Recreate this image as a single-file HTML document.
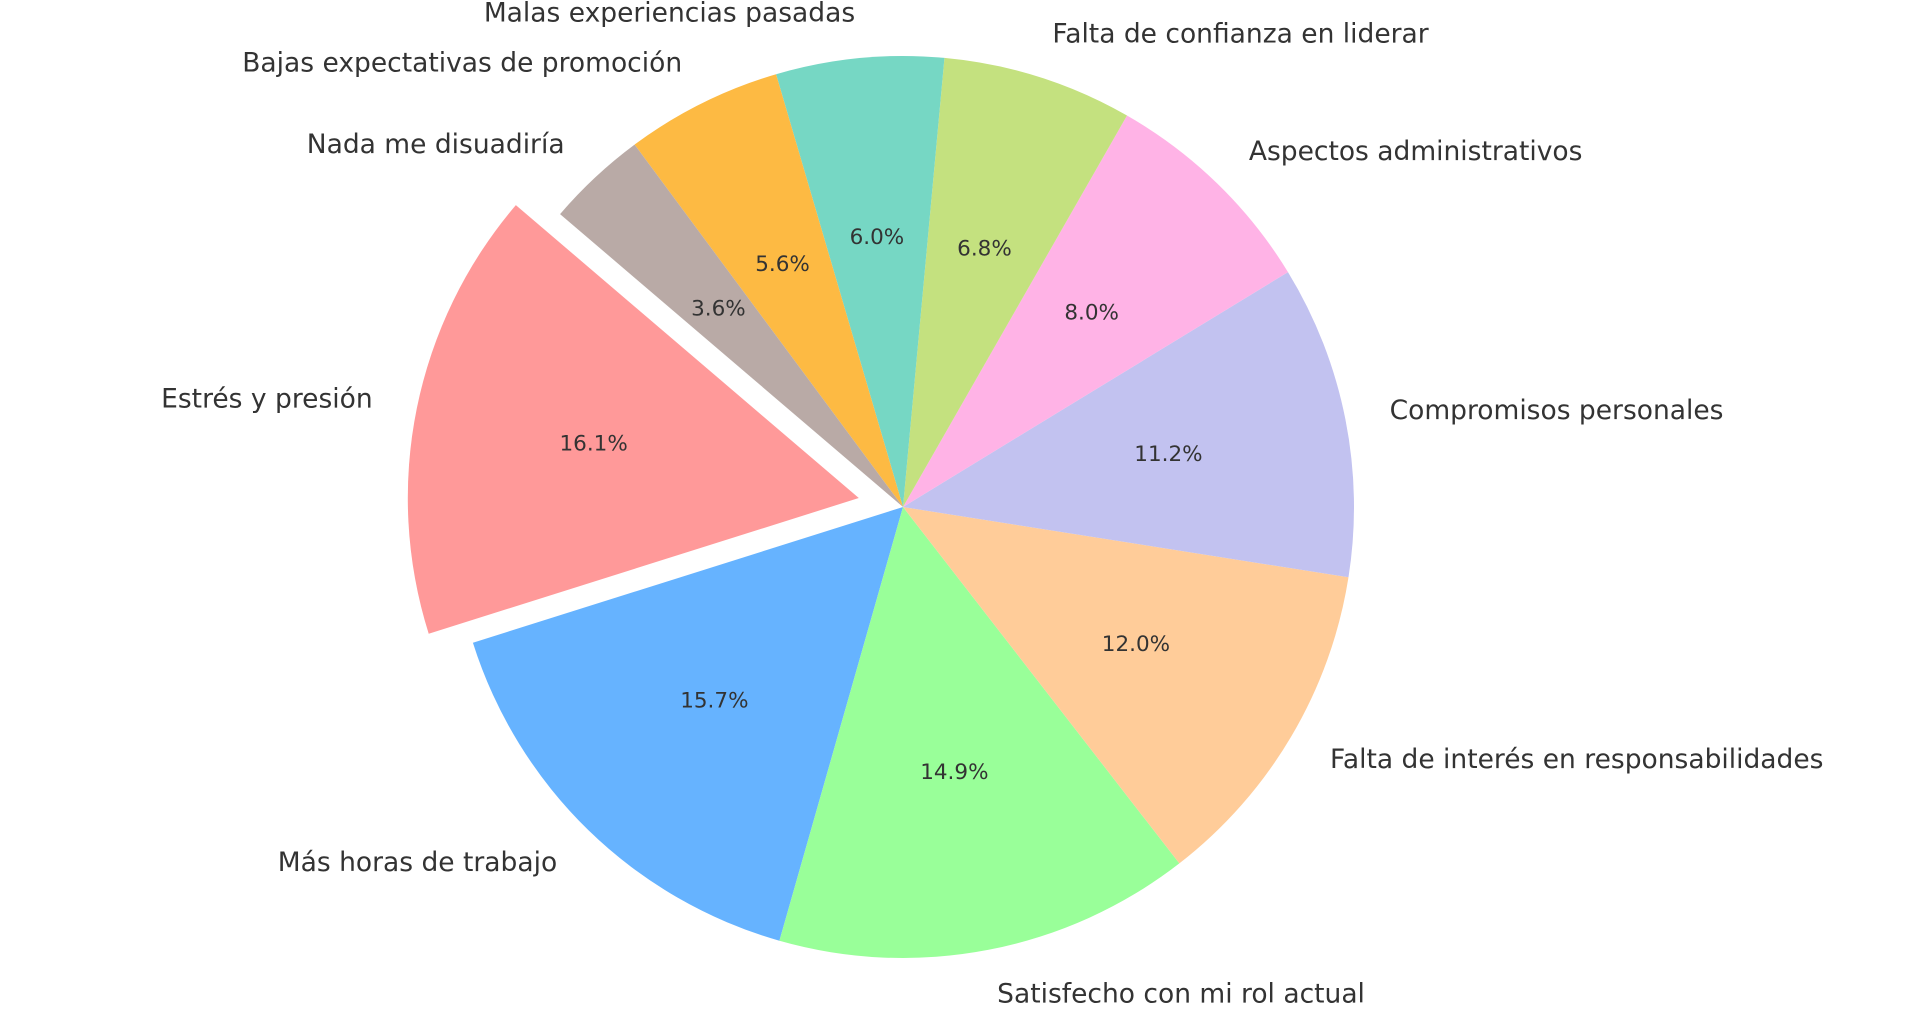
<!DOCTYPE html>
<html><head><meta charset="utf-8"><style>
html,body{margin:0;padding:0;background:#fff;}
svg{display:block;font-family:"DejaVu Sans","Liberation Sans",sans-serif;}
</style></head><body>
<svg id="chart" width="1920" height="1029" viewBox="0 0 1920 1029" xmlns="http://www.w3.org/2000/svg">
<rect width="1920" height="1029" fill="#ffffff"/>
<g id="slices"></g>
<g id="labels"></g>
</svg>
<script>
const categories = ["Estrés y presión","Más horas de trabajo","Satisfecho con mi rol actual","Falta de interés en responsabilidades","Compromisos personales","Aspectos administrativos","Falta de confianza en liderar","Malas experiencias pasadas","Bajas expectativas de promoción","Nada me disuadiría"];
const values = [16.1,15.7,14.9,12.0,11.2,8.0,6.8,6.0,5.6,3.6];
const explodeArr = [0.1,0,0,0,0,0,0,0,0,0];
const colors = ["#ff9999","#66b3ff","#99ff99","#ffcc99","#c2c2f0","#ffb3e6","#c4e17f","#76d7c4","#fdba43","#b9aaa6"];
const startAngle = 139.5;

const cx = 903, cy = 507, R = 451;
const NS = "http://www.w3.org/2000/svg";
const gS = document.getElementById("slices");
const gL = document.getElementById("labels");
const total = values.reduce((a,b)=>a+b,0);
function pt(x0,y0,r,deg){const a=deg*Math.PI/180;return [x0+r*Math.cos(a), y0-r*Math.sin(a)];}
let ang = startAngle;
values.forEach((v,i)=>{
  const sweep = v/total*360;
  const a0 = ang, a1 = ang+sweep, mid = (a0+a1)/2;
  const [ox,oy] = pt(cx,cy,explodeArr[i]*R,mid);
  const p0 = pt(ox,oy,R,a0), p1 = pt(ox,oy,R,a1);
  const large = sweep>180?1:0;
  const path = document.createElementNS(NS,"path");
  path.setAttribute("d",`M${ox},${oy} L${p0[0]},${p0[1]} A${R},${R} 0 ${large} 0 ${p1[0]},${p1[1]} Z`);
  path.setAttribute("fill",colors[i]);
  
  
  gS.appendChild(path);
  const lp = pt(ox,oy,1.1*R,mid);
  const t = document.createElementNS(NS,"text");
  t.setAttribute("x",lp[0]); t.setAttribute("y",lp[1]);
  t.setAttribute("text-anchor", Math.cos(mid*Math.PI/180)>=0?"start":"end");
  t.setAttribute("dominant-baseline","central");
  t.setAttribute("font-size","26.5");
  t.setAttribute("fill","#333333");
  t.textContent = categories[i];
  
  
  gL.appendChild(t);
  const pp = pt(ox,oy,0.6*R,mid);
  const tp = document.createElementNS(NS,"text");
  tp.setAttribute("x",pp[0]); tp.setAttribute("y",pp[1]);
  tp.setAttribute("text-anchor","middle");
  tp.setAttribute("dominant-baseline","central");
  tp.setAttribute("font-size","21.5");
  tp.setAttribute("fill","#333333");
  tp.textContent = v.toFixed(1)+"%";
  
  
  gL.appendChild(tp);
  ang = a1;
});
</script>
</body></html>
